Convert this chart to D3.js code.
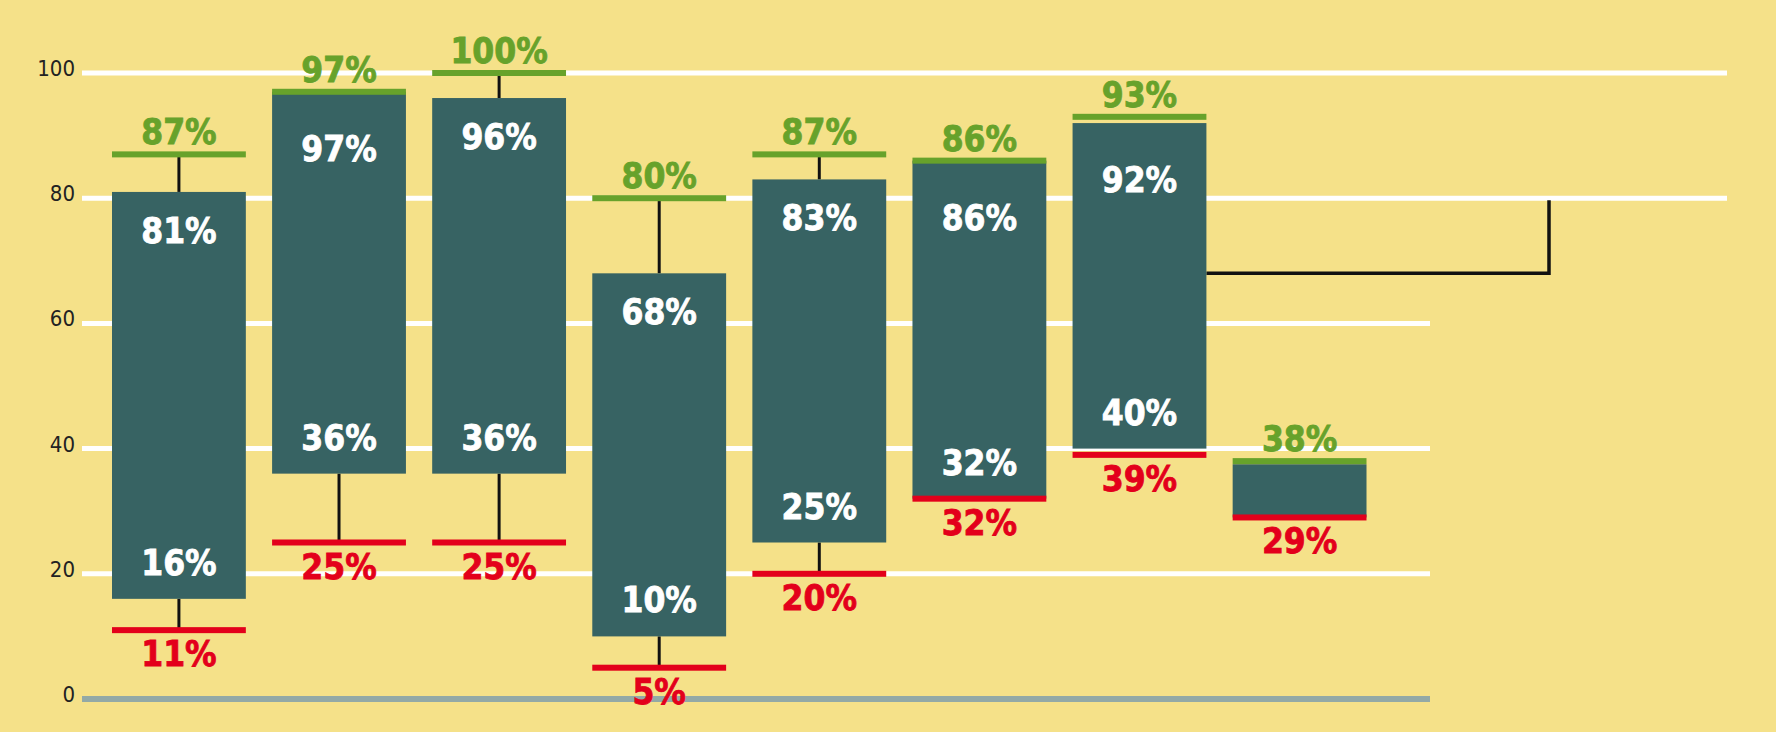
<!DOCTYPE html>
<meta charset="utf-8">
<style>
  body { margin: 0; background: #f5e189; }
  svg { display: block; }
  .tick-label {
    font-family: "DejaVu Sans Condensed", "DejaVu Sans", sans-serif;
    font-stretch: condensed;
    font-size: 22px;
    fill: #222;
  }
  .val {
    font-family: "DejaVu Sans Condensed", "DejaVu Sans", sans-serif;
    font-stretch: condensed;
    font-weight: bold;
    font-size: 35px;
    text-anchor: middle;
    stroke-width: 0.8px;
  }
</style>
<body>
<div id="chart"></div>
<script src="https://d3js.org/d3.v7.min.js"></script>
<script>

// data
const groups = ["1", "2", "3", "4", "5", "6", "7", "8"];
const highs  = [87, 97, 100, 80, 87, 86, 93, 38];
const upper  = [81, 97, 96, 68, 83, 86, 92, 37.5];
const lower  = [16, 36, 36, 10, 25, 32, 40, 29];
const lows   = [11, 25, 25, 5, 20, 32, 39, 29];
const innerLabels = [true, true, true, true, true, true, true, false];

const yTicks = [0, 20, 40, 60, 80, 100];
const longTicks = [80, 100];
// bracket on the right side, from level 68 up to the 80 line
const bracketLevels = [68, 80];

const width = 1776, height = 732;

const rows = groups.map((g, i) => ({
  g: g, hi: highs[i], q3: upper[i], q1: lower[i], lo: lows[i], inner: innerLabels[i]
}));

const svg = d3.select("#chart").append("svg")
    .attr("width", width)
    .attr("height", height);

svg.append("rect")
    .attr("width", width)
    .attr("height", height)
    .attr("fill", "#f5e189");

const x = d3.scaleBand()
    .domain(groups)
    .range([112, 1366.5])
    .paddingInner(0.164)
    .paddingOuter(0);

const y = d3.scaleLinear()
    .domain([0, 100])
    .range([699, 73]);

const gridLeft = 82, gridShort = 1430, gridLong = 1727, bracketX = 1549;

// grid lines
svg.append("g")
  .selectAll("line")
  .data(yTicks)
  .join("line")
    .attr("x1", gridLeft)
    .attr("x2", d => longTicks.includes(d) ? gridLong : gridShort)
    .attr("y1", d => y(d))
    .attr("y2", d => y(d))
    .attr("stroke", d => d === 0 ? "#93a9a6" : "#ffffff")
    .attr("stroke-width", d => d === 0 ? 6 : 5);

svg.append("g")
  .selectAll("text")
  .data(yTicks)
  .join("text")
    .attr("class", "tick-label")
    .attr("x", 75)
    .attr("y", d => y(d) + 3)
    .attr("text-anchor", "end")
    .text(d => d);

// bracket
svg.append("path")
    .attr("d", d3.line()([
      [x(groups[6]) + x.bandwidth(), y(bracketLevels[0])],
      [bracketX, y(bracketLevels[0])],
      [bracketX, y(bracketLevels[1]) + 2]
    ]))
    .attr("fill", "none")
    .attr("stroke", "#111")
    .attr("stroke-width", 3.5);

const box = svg.append("g")
  .selectAll("g")
  .data(rows)
  .join("g")
    .attr("transform", d => "translate(" + x(d.g) + ",0)");

const bw = x.bandwidth();

// whisker stems, only where there is room between cap and box
box.filter(d => d.hi - d.q3 > 1.5).append("line")
    .attr("x1", bw / 2).attr("x2", bw / 2)
    .attr("y1", d => y(d.hi)).attr("y2", d => y(d.q3))
    .attr("stroke", "#111")
    .attr("stroke-width", 3);

box.filter(d => d.q1 - d.lo > 1.5).append("line")
    .attr("x1", bw / 2).attr("x2", bw / 2)
    .attr("y1", d => y(d.q1)).attr("y2", d => y(d.lo))
    .attr("stroke", "#111")
    .attr("stroke-width", 3);

box.append("rect")
    .attr("width", bw)
    .attr("y", d => y(d.q3))
    .attr("height", d => y(d.q1) - y(d.q3))
    .attr("fill", "#376363");

// caps
box.append("rect")
    .attr("width", bw)
    .attr("y", d => y(d.hi) - 3)
    .attr("height", 6)
    .attr("fill", "#67a22b");

box.append("rect")
    .attr("width", bw)
    .attr("y", d => y(d.lo) - 3)
    .attr("height", 6)
    .attr("fill", "#e3001b");

// value labels
box.append("text")
    .attr("class", "val")
    .attr("x", bw / 2)
    .attr("y", d => y(d.hi) - 10)
    .attr("fill", "#67a22b")
    .attr("stroke", "#67a22b")
    .text(d => d.hi + "%");

box.append("text")
    .attr("class", "val")
    .attr("x", bw / 2)
    .attr("y", d => y(d.lo) + 36)
    .attr("fill", "#e3001b")
    .attr("stroke", "#e3001b")
    .text(d => d.lo + "%");

box.filter(d => d.inner).append("text")
    .attr("class", "val")
    .attr("x", bw / 2)
    .attr("y", d => y(d.q3) + (d.hi - d.q3 <= 1 ? 69 : 51))
    .attr("fill", "#fff")
    .attr("stroke", "#fff")
    .text(d => d.q3 + "%");

box.filter(d => d.inner).append("text")
    .attr("class", "val")
    .attr("x", bw / 2)
    .attr("y", d => y(d.q1) - 24)
    .attr("fill", "#fff")
    .attr("stroke", "#fff")
    .text(d => d.q1 + "%");

</script>
</body>
</html>
